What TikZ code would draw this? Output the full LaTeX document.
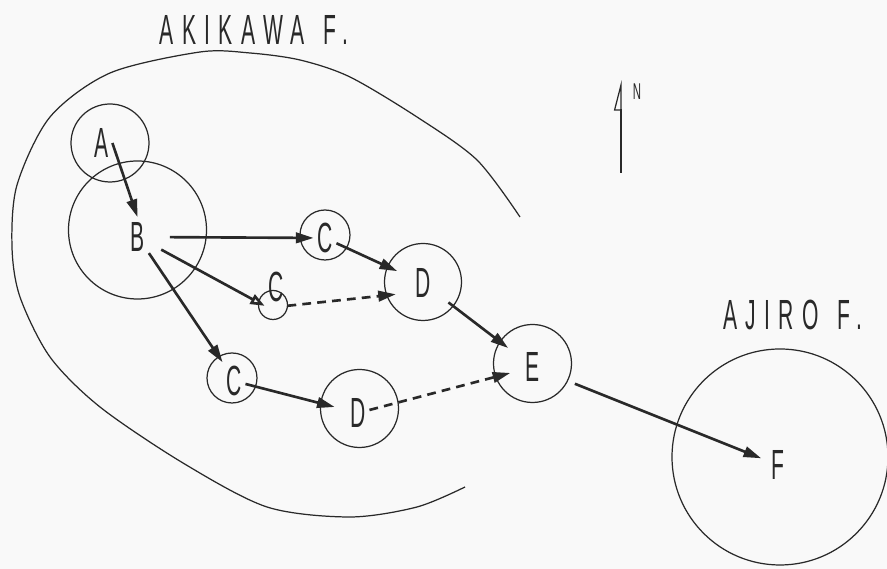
\documentclass[tikz,border=0pt]{standalone}
\usepackage{fontspec}
\usetikzlibrary{arrows.meta}
\newfontfamily\formfont[FakeStretch=0.5,LetterSpace=20]{Liberation Sans}
\newfontfamily\sitefont[FakeStretch=0.5]{Liberation Sans}
\definecolor{ink}{gray}{0.16}
\definecolor{paper}{gray}{0.975}

\begin{document}
\begin{tikzpicture}[scale=2, color=ink,
    ring/.style={line width=0.7pt},
    flow/.style={-{Triangle[length=10pt,width=6pt]}, line width=1.5pt},
    weak/.style={flow, dash pattern=on 5pt off 3.5pt},
    site/.style={font=\sitefont\fontsize{24}{24}\selectfont, inner sep=2pt},
    form/.style={font=\formfont\fontsize{24}{24}\selectfont, inner sep=0pt}]
      \fill[paper] (0,0) rectangle (8.87,5.69); % paper
      \useasboundingbox (0,0) rectangle (8.87,5.69);

      \draw[ring] plot[smooth] coordinates {(5.20,3.52) (4.77,4.09) (4.17,4.52)
        (3.50,4.92) (3.00,5.09) (2.50,5.16) (2.00,5.17) (1.10,4.96) (0.50,4.52)
        (0.17,3.84) (0.12,3.22) (0.20,2.72) (0.50,2.12) (1.00,1.62) (1.83,1.06)
        (2.67,0.62) (3.50,0.52) (4.17,0.62) (4.65,0.82)}; % akikawa boundary
      \node[form] (akikawa) at (2.54,5.39) {AKIKAWA\hspace{0.45em}F.};

      \draw[ring] (1.10,4.26) circle (0.39); % A
      \draw[ring] (1.375,3.39) circle (0.69); % B
      \draw[ring] (3.25,3.34) circle (0.25); % upper C
      \draw[ring] (2.73,2.64) circle (0.145); % small C
      \draw[ring] (2.32,1.91) circle (0.25); % lower C
      \draw[ring] (4.23,2.87) circle (0.385); % upper D
      \draw[ring] (3.595,1.605) circle (0.39); % lower D
      \draw[ring] (5.325,2.055) circle (0.39); % E
      \draw[ring] (7.80,1.12) circle (1.08); % F

      \node[site] (A) at (1.015,4.26) {A};
      \node[site] (B) at (1.38,3.32) {B};
      \node[site] (C1) at (3.25,3.31) {C};
      \node[site] (C2) at (2.76,2.82) {C};
      \node[site] (C3) at (2.34,1.88) {C};
      \node[site] (D1) at (4.23,2.86) {D};
      \node[site] (D2) at (3.58,1.56) {D};
      \node[site] (E) at (5.33,2.02) {E};
      \node[site] (F) at (7.78,1.04) {F};

      \draw[flow, shorten >=1pt] (A.east) -- (B.north);
      \draw[flow, shorten <=12pt] (B) -- (C1);
      \draw[-{Triangle[open,length=8pt,width=6pt]}, line width=1.5pt, shorten <=8pt] (B) -- (C2.south west);
      \draw[flow] (B) -- (C3.north west);
      \draw[flow, shorten >=9pt] (C1) -- (D1);
      \draw[weak, shorten >=9pt] (C2.south east) -- (D1.220);
      \draw[flow, shorten >=7pt] (C3) -- (D2);
      \draw[weak, shorten >=7pt] (D2) -- (E);
      \draw[flow, shorten <=10pt, shorten >=10pt] (D1) -- (E);
      \draw[flow, shorten <=19pt, shorten >=4pt] (E) -- (F);

      \node[form] (ajiro) at (7.93,2.54) {AJIRO\hspace{0.45em}F.};

      \coordinate (s0) at (6.21,3.96); % north arrow
      \coordinate (s1) at (6.21,4.89);
      \draw[line width=0.7pt, -{Triangle[open,left,length=16pt,width=8pt]}] (s0) -- (s1);
      \node[font=\sitefont\fontsize{13}{13}\selectfont] (north) at (6.37,4.77) {N};
\end{tikzpicture}
\end{document}
